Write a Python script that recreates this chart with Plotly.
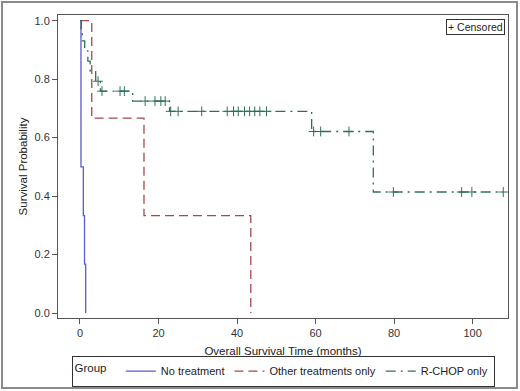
import numpy as np
import plotly.graph_objects as go

# ---- data ----
no_treat_t = [0, 0.25, 0.85, 1.15, 1.45]
no_treat_s = [1.0, 0.5, 0.333, 0.167, 0.0]

other_t = [0, 3.0, 16.3, 43.5]
other_s = [1.0, 0.667, 0.333, 0.0]

rchop_t = [0, 0.3, 0.6, 1.2, 2.0, 2.6, 4.0, 5.2, 13.4, 22.8, 59.0, 74.7, 107.8]
rchop_s = [1.0, 0.966, 0.931, 0.897, 0.862, 0.828, 0.793, 0.759, 0.725, 0.690, 0.621, 0.414, 0.414]

rchop_censor_t = [4.6, 5.6, 10.2, 11.3, 16.6, 19.1, 20.6, 21.7, 23.1, 25.0, 31.0,
                  37.5, 39.1, 40.3, 41.9, 43.2, 44.5, 45.8, 47.5,
                  59.5, 61.3, 68.5, 79.8, 97.2, 99.8, 107.8]

x_ticks = [0, 20, 40, 60, 80, 100]
y_ticks = [0.0, 0.2, 0.4, 0.6, 0.8, 1.0]

BLUE = "#5b5bd0"
RED = "#a4484c"
GREEN = "#2f6e5e"

def level_at(t, ts, ss):
    idx = np.searchsorted(ts, t, side="right") - 1
    return ss[max(idx, 0)]

censor_s = [level_at(t, rchop_t, rchop_s) for t in rchop_censor_t]

fig = go.Figure()
fig.add_trace(go.Scatter(x=no_treat_t, y=no_treat_s, mode="lines", line_shape="hv",
                         name="No treatment", line=dict(color=BLUE, width=1.3)))
fig.add_trace(go.Scatter(x=other_t, y=other_s, mode="lines", line_shape="hv",
                         name="Other treatments only",
                         line=dict(color=RED, width=1.3, dash="9px,5px")))
fig.add_trace(go.Scatter(x=rchop_t, y=rchop_s, mode="lines", line_shape="hv",
                         name="R-CHOP only",
                         line=dict(color=GREEN, width=1.3, dash="10px,5px,2px,5px")))
fig.add_trace(go.Scatter(x=rchop_censor_t, y=censor_s, mode="markers", showlegend=False,
                         marker=dict(symbol="cross-thin", size=7,
                                     line=dict(width=1, color=GREEN), color=GREEN)))

axis_common = dict(showline=True, linecolor="#555", linewidth=1, mirror=True,
                   ticks="outside", ticklen=5, tickcolor="#555", showgrid=False,
                   zeroline=False, tickfont=dict(size=11, color="#333"), automargin=False)

fig.update_xaxes(range=[-5.6, 109.0], tickvals=x_ticks,
                 title=dict(text="Overall Survival Time (months)", font=dict(size=11.5, color="#222"),
                            standoff=8),
                 **axis_common)
fig.update_yaxes(range=[-0.017, 1.0195], tickvals=y_ticks,
                 ticktext=[f"{v:.1f}" for v in y_ticks],
                 title=dict(text="Survival Probability", font=dict(size=11.5, color="#222"),
                            standoff=4),
                 **axis_common)

fig.add_annotation(xref="paper", yref="paper", x=0.993, y=0.987, xanchor="right", yanchor="top",
                   text="+ Censored", showarrow=False, font=dict(size=10.5, color="#222"),
                   bordercolor="#333", borderwidth=1, borderpad=1, bgcolor="white")

fig.add_shape(type="rect", xref="paper", yref="paper", x0=-0.1244, x1=1.02, y0=-0.231, y1=1.0429,
              line=dict(color="#8a8a8a", width=2), layer="below")

fig.update_layout(
    width=520, height=391,
    margin=dict(l=58, r=12, t=15, b=73, autoexpand=False),
    paper_bgcolor="white", plot_bgcolor="white",
    font=dict(family="Liberation Sans, Arial, sans-serif", color="#222"),
    legend=dict(orientation="h", x=0.5, xanchor="center", y=-0.124, yanchor="top",
                title=dict(text="Group  ", font=dict(size=11.5), side="left"),
                font=dict(size=11), bordercolor="#333", borderwidth=1, valign="middle",
                itemwidth=30, tracegroupgap=0),
)

fig.write_html("out.html", config={"displayModeBar": False},
               post_script="document.body.style.margin='0';document.body.style.overflow='hidden';")
